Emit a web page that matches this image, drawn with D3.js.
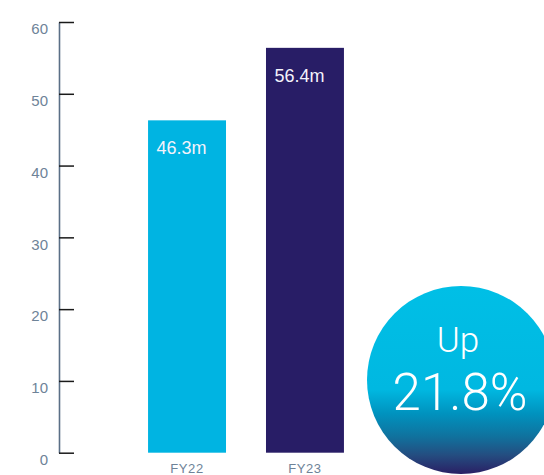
<!DOCTYPE html>
<html>
<head>
<meta charset="utf-8">
<script src="https://cdn.jsdelivr.net/npm/d3@7"></script>
<style>
  html, body { margin: 0; padding: 0; background: #ffffff; }
  svg { display: block; }
</style>
</head>
<body>
<svg id="chart" width="544" height="475"></svg>
<script>
const categories = ["FY22", "FY23"];
const values = [46.3, 56.4];
const valueLabels = ["46.3m", "56.4m"];
const barColors = ["#00b4e2", "#281d66"];
const yTicks = [0, 10, 20, 30, 40, 50, 60];
const badgeLines = ["Up", "21.8%"];

const svg = d3.select("#chart");

const y = d3.scaleLinear().domain([0, 60]).range([452.7, 22]);
const x = d3.scaleBand().domain(categories).range([128, 364]).paddingInner(0.339).paddingOuter(0.17);

// Y axis
const yAxis = d3.axisLeft(y).tickValues(yTicks).tickSizeInner(-15).tickSizeOuter(0).tickPadding(11);
const gy = svg.append("g").attr("transform", "translate(59,0)").call(yAxis);
gy.select(".domain").attr("stroke", "#5b6f86").attr("stroke-width", 1.6);
gy.selectAll(".tick line").attr("stroke", "#1a1a1a").attr("stroke-width", 1.5);
gy.selectAll(".tick text")
  .attr("fill", "#6e8398")
  .attr("font-family", "'Liberation Sans', Arial, sans-serif")
  .attr("font-size", 15)
  .attr("dy", "0.78em");

// Bars
svg.append("g").selectAll("rect").data(categories).join("rect")
  .attr("x", d => x(d))
  .attr("y", (d, i) => y(values[i]))
  .attr("width", x.bandwidth())
  .attr("height", (d, i) => y(0) - y(values[i]))
  .attr("fill", (d, i) => barColors[i]);

// Value labels inside bars
svg.append("g").selectAll("text").data(categories).join("text")
  .attr("x", d => x(d) + 8.5)
  .attr("y", (d, i) => y(values[i]) + 34)
  .attr("fill", "#f4f2fb")
  .attr("font-family", "'Liberation Sans', Arial, sans-serif")
  .attr("font-size", 18)
  .text((d, i) => valueLabels[i]);

// X labels
svg.append("g").selectAll("text").data(categories).join("text")
  .attr("x", d => x(d) + x.bandwidth() / 2)
  .attr("y", 473)
  .attr("text-anchor", "middle")
  .attr("fill", "#6e8398")
  .attr("font-family", "'Liberation Sans', Arial, sans-serif")
  .attr("font-size", 13)
  .attr("letter-spacing", 0.6)
  .text(d => d);

// Badge
const defs = svg.append("defs");
const grad = defs.append("linearGradient").attr("id", "badgeGrad")
  .attr("x1", 0).attr("y1", 0).attr("x2", 0).attr("y2", 1);
[[0, "#00bfe6"], [0.55, "#00b8e1"], [0.68, "#0092be"], [0.8, "#10729e"], [0.9, "#244d80"], [1, "#2a1f64"]]
  .forEach(([o, c]) => grad.append("stop").attr("offset", o).attr("stop-color", c));

svg.append("circle")
  .attr("cx", 461).attr("cy", 380).attr("r", 94)
  .attr("fill", "url(#badgeGrad)");

svg.append("text")
  .attr("x", 458).attr("y", 352)
  .attr("text-anchor", "middle")
  .attr("fill", "#ffffff")
  .attr("font-family", "Roboto, 'Open Sans', sans-serif")
  .attr("font-weight", 300)
  .attr("font-size", 35)
  .text(badgeLines[0]);

svg.append("text")
  .attr("x", 460).attr("y", 410)
  .attr("text-anchor", "middle")
  .attr("fill", "#ffffff")
  .attr("font-family", "Roboto, 'Open Sans', sans-serif")
  .attr("font-weight", 300)
  .attr("font-size", 51)
  .text(badgeLines[1]);
</script>
</body>
</html>
